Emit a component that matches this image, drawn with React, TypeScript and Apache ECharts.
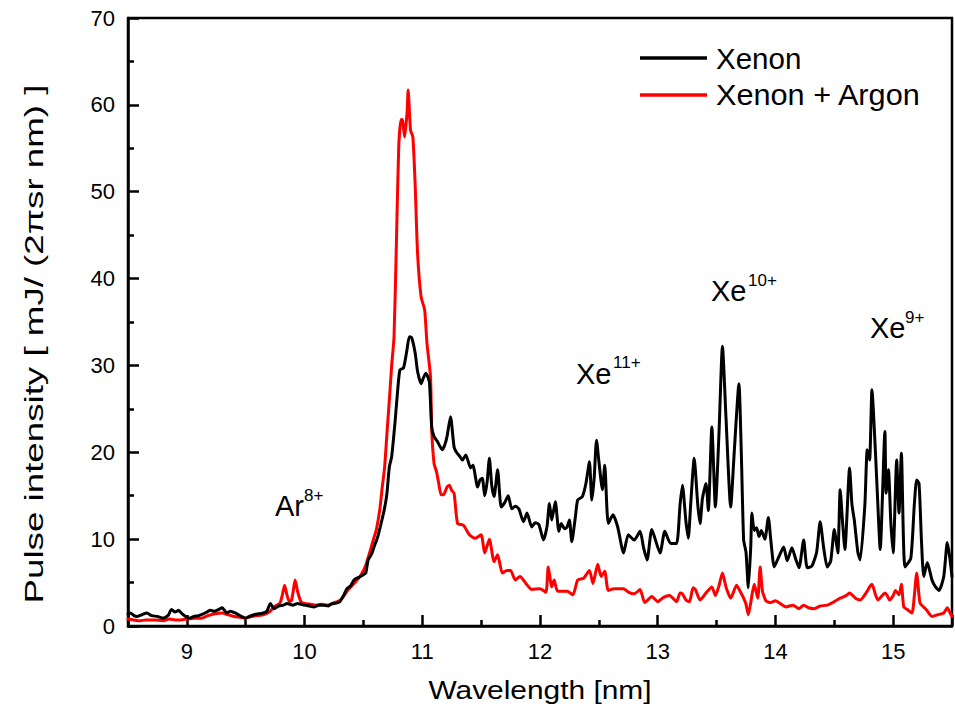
import React, { useEffect, useRef } from "react";
import * as echarts from "echarts";

// Xenon (black) spectrum: wavelength [nm] and intensity
const xenonX = [
  8.5, 8.52, 8.55, 8.58, 8.62, 8.66, 8.7, 8.75, 8.8, 8.84, 8.87, 8.9, 8.93, 8.96, 9.0, 9.02, 9.06, 9.1, 9.14, 9.17,
  9.2, 9.23, 9.27, 9.3, 9.32, 9.34, 9.37, 9.41, 9.45, 9.5, 9.53, 9.57, 9.61, 9.65, 9.68, 9.71, 9.74, 9.78, 9.82, 9.85,
  9.9, 9.94, 9.97, 10.0, 10.04, 10.08, 10.12, 10.16, 10.2, 10.22, 10.26, 10.3, 10.33, 10.36, 10.39, 10.42, 10.46, 10.5, 10.52, 10.54,
  10.57, 10.59, 10.62, 10.65, 10.68, 10.7, 10.72, 10.74, 10.77, 10.79, 10.81, 10.84, 10.86, 10.87, 10.89, 10.91, 10.94, 10.96, 10.99, 11.01,
  11.03, 11.06, 11.08, 11.1, 11.13, 11.17, 11.19, 11.21, 11.24, 11.27, 11.29, 11.32, 11.34, 11.37, 11.41, 11.43, 11.47, 11.49, 11.51, 11.53,
  11.55, 11.57, 11.59, 11.61, 11.64, 11.67, 11.7, 11.73, 11.76, 11.79, 11.82, 11.86, 11.89, 11.93, 11.96, 11.99, 12.03, 12.06, 12.08, 12.1,
  12.13, 12.16, 12.18, 12.21, 12.23, 12.25, 12.27, 12.3, 12.32, 12.36, 12.39, 12.42, 12.44, 12.46, 12.48, 12.5, 12.53, 12.55, 12.58, 12.62,
  12.66, 12.71, 12.75, 12.8, 12.85, 12.88, 12.91, 12.95, 13.02, 13.06, 13.11, 13.16, 13.19, 13.21, 13.24, 13.26, 13.28, 13.31, 13.34, 13.36,
  13.38, 13.41, 13.43, 13.46, 13.49, 13.52, 13.55, 13.58, 13.62, 13.65, 13.69, 13.71, 13.73, 13.75, 13.77, 13.79, 13.8, 13.82, 13.84, 13.86,
  13.88, 13.91, 13.94, 13.96, 13.99, 14.03, 14.07, 14.1, 14.14, 14.17, 14.2, 14.24, 14.27, 14.31, 14.35, 14.38, 14.41, 14.44, 14.47, 14.5,
  14.53, 14.55, 14.57, 14.59, 14.63, 14.65, 14.67, 14.7, 14.72, 14.76, 14.78, 14.8, 14.82, 14.85, 14.87, 14.89, 14.93, 14.94, 14.96, 14.98,
  15.0, 15.03, 15.05, 15.07, 15.1, 15.15, 15.18, 15.2, 15.22, 15.24, 15.26, 15.29, 15.33, 15.36, 15.39, 15.43, 15.46, 15.48, 15.5,
];
const xenonY = [
  1.4, 1.5, 1.2, 1.1, 1.3, 1.5, 1.2, 1.1, 0.9, 1.2, 1.9, 1.6, 1.8, 1.4, 1.0, 0.9, 1.1, 1.2, 1.4, 1.6,
  1.8, 1.7, 1.9, 2.1, 1.8, 1.5, 1.7, 1.5, 1.2, 0.9, 1.1, 1.3, 1.4, 1.5, 1.7, 2.6, 2.0, 2.3, 2.4, 2.6,
  2.4, 2.6, 2.5, 2.4, 2.3, 2.2, 2.4, 2.4, 2.3, 2.5, 2.6, 2.8, 3.5, 4.3, 4.6, 5.3, 5.6, 5.9, 6.1, 7.6,
  8.3, 9.1, 10.2, 11.8, 13.6, 15.3, 18.3, 19.5, 23.7, 27.0, 29.5, 29.7, 31.0, 31.8, 33.3, 33.2, 31.4, 29.3, 27.9, 28.6,
  29.1, 28.1, 22.9, 21.8, 21.2, 20.3, 20.8, 21.8, 24.1, 20.6, 20.0, 19.5, 19.1, 19.7, 18.2, 18.5, 16.0, 16.8, 17.0, 15.0,
  16.5, 19.3, 16.2, 14.9, 18.0, 13.7, 14.2, 15.0, 13.5, 13.8, 13.5, 12.0, 13.0, 11.4, 11.9, 11.7, 9.9, 11.5, 14.1, 12.2,
  14.3, 10.9, 11.8, 11.2, 11.4, 12.2, 9.7, 12.5, 14.5, 14.9, 16.4, 18.9, 14.5, 17.0, 21.4, 19.0, 15.7, 18.5, 11.8, 12.8,
  11.4, 8.4, 10.5, 9.9, 10.9, 9.0, 7.6, 11.1, 8.4, 10.9, 9.5, 9.5, 14.0, 16.2, 12.0, 10.1, 14.0, 19.3, 14.0, 11.8,
  14.7, 16.4, 13.3, 22.9, 13.7, 22.0, 32.2, 24.0, 13.7, 20.0, 27.9, 20.0, 9.9, 8.5, 4.4, 9.0, 13.0, 11.0, 11.3, 10.3,
  11.0, 10.0, 12.5, 10.0, 6.8, 8.0, 9.1, 7.5, 9.0, 7.8, 6.7, 9.9, 6.7, 6.9, 8.5, 12.0, 9.0, 6.8, 7.5, 11.1,
  8.4, 15.7, 12.0, 8.8, 18.2, 14.0, 12.2, 8.5, 7.6, 14.0, 20.3, 19.1, 27.2, 19.9, 14.0, 8.8, 22.4, 15.3, 18.0, 12.0,
  8.4, 19.1, 13.0, 19.9, 6.8, 7.8, 14.0, 16.8, 16.4, 10.0, 5.7, 7.3, 5.3, 4.5, 4.1, 5.7, 9.6, 8.0, 5.7,
];

// Xenon + Argon (red) spectrum
const argonX = [
  8.5, 8.55, 8.6, 8.65, 8.72, 8.8, 8.85, 8.9, 8.95, 9.0, 9.06, 9.12, 9.18, 9.24, 9.3, 9.35, 9.4, 9.45, 9.5, 9.55,
  9.6, 9.65, 9.7, 9.75, 9.79, 9.81, 9.83, 9.85, 9.87, 9.89, 9.91, 9.92, 9.94, 9.97, 10.0, 10.05, 10.1, 10.14, 10.2, 10.25,
  10.28, 10.32, 10.36, 10.4, 10.44, 10.48, 10.52, 10.56, 10.59, 10.61, 10.64, 10.66, 10.68, 10.7, 10.72, 10.74, 10.76, 10.78, 10.8, 10.82,
  10.83, 10.85, 10.87, 10.88, 10.9, 10.92, 10.94, 10.96, 10.99, 11.02, 11.04, 11.07, 11.08, 11.1, 11.12, 11.14, 11.16, 11.18, 11.21, 11.23,
  11.25, 11.27, 11.3, 11.35, 11.4, 11.45, 11.5, 11.53, 11.57, 11.61, 11.64, 11.68, 11.72, 11.75, 11.79, 11.83, 11.88, 11.93, 12.0, 12.05,
  12.07, 12.1, 12.12, 12.15, 12.23, 12.28, 12.32, 12.37, 12.42, 12.45, 12.49, 12.52, 12.55, 12.58, 12.63, 12.71, 12.75, 12.8, 12.85, 12.89,
  12.95, 13.0, 13.05, 13.1, 13.16, 13.19, 13.21, 13.24, 13.27, 13.3, 13.32, 13.36, 13.41, 13.46, 13.49, 13.52, 13.55, 13.58, 13.62, 13.67,
  13.7, 13.73, 13.75, 13.77, 13.8, 13.82, 13.85, 13.87, 13.89, 13.92, 13.96, 14.0, 14.05, 14.09, 14.15, 14.2, 14.24, 14.28, 14.33, 14.38,
  14.44, 14.5, 14.55, 14.6, 14.63, 14.68, 14.72, 14.77, 14.8, 14.82, 14.85, 14.87, 14.9, 14.93, 14.95, 14.97, 15.0, 15.02, 15.05, 15.07,
  15.09, 15.12, 15.16, 15.18, 15.2, 15.22, 15.23, 15.28, 15.33, 15.38, 15.43, 15.46, 15.48, 15.5,
];
const argonY = [
  0.8, 0.7, 0.6, 0.7, 0.7, 0.6, 0.8, 0.7, 0.7, 0.8, 0.9, 0.9, 1.2, 1.4, 1.5, 1.3, 1.1, 1.0, 0.9, 1.1,
  1.2, 1.3, 1.6, 2.3, 2.6, 3.5, 4.7, 3.6, 2.8, 3.0, 4.6, 5.3, 4.0, 2.8, 2.6, 2.5, 2.4, 2.5, 2.4, 2.7,
  2.8, 3.2, 4.0, 4.6, 5.2, 5.9, 7.0, 8.8, 10.2, 11.1, 13.5, 16.0, 18.3, 22.2, 26.0, 30.0, 33.3, 44.0, 55.2, 58.3,
  58.3, 56.3, 59.0, 61.7, 57.1, 56.3, 50.6, 42.9, 37.9, 36.4, 32.5, 28.7, 22.6, 18.7, 17.8, 16.4, 15.1, 15.1, 16.0, 16.2,
  15.6, 15.3, 11.8, 11.6, 10.5, 10.1, 10.5, 8.4, 10.0, 7.4, 8.2, 6.1, 6.4, 6.4, 5.3, 5.7, 4.9, 4.2, 4.3, 3.9,
  6.8, 4.5, 5.3, 4.0, 4.0, 3.6, 5.3, 5.5, 6.4, 4.9, 7.1, 5.7, 6.3, 4.1, 4.3, 4.3, 3.9, 3.7, 4.2, 2.7,
  3.4, 2.8, 3.3, 3.5, 2.8, 3.8, 3.7, 3.0, 2.8, 4.4, 4.2, 3.0, 3.8, 4.5, 3.5, 4.6, 6.1, 4.5, 3.2, 4.7,
  4.0, 3.2, 2.5, 1.3, 3.5, 4.8, 3.2, 6.8, 4.0, 2.9, 2.7, 2.9, 2.5, 2.2, 2.4, 2.0, 2.4, 2.1, 2.0, 2.3,
  2.4, 2.8, 3.2, 3.5, 3.8, 3.2, 3.0, 3.8, 4.5, 4.8, 3.6, 3.0, 3.4, 3.8, 3.5, 3.0, 3.5, 4.1, 3.6, 4.8,
  2.2, 1.9, 1.5, 3.5, 6.1, 3.5, 2.6, 1.9, 1.1, 1.3, 1.5, 2.1, 1.6, 1.1,
];

const seriesNames = ["Xenon", "Xenon + Argon"];
const seriesColors = ["#000000", "#ff0000"];
const yTicks = [0, 10, 20, 30, 40, 50, 60, 70];

const FONT = '"Liberation Sans", Arial, sans-serif';

function zip(xs: number[], ys: number[]) {
  return xs.map((x, i) => [x, ys[i]]);
}

export default function App() {
  const ref = useRef<HTMLDivElement>(null);
  useEffect(() => {
    if (!ref.current) return;
    const chart = echarts.init(ref.current, undefined, { renderer: "svg" });
    const axisCommon = {
      axisLine: { show: true, onZero: false, lineStyle: { color: "#000", width: 2.5 } },
      axisTick: { show: true, inside: true, length: 11, lineStyle: { color: "#000", width: 2.5 } },
      minorTick: { show: true, splitNumber: 2, length: 6, lineStyle: { color: "#000", width: 2.5 } },
      splitLine: { show: false },
      minorSplitLine: { show: false },
    };
    const annot = (
      base: string,
      sup: string,
      bx: number,
      by: number,
      sx: number,
      sy: number
    ) => [
      {
        type: "text",
        x: bx,
        y: by,
        style: { text: base, fill: "#000", fontSize: 29, fontFamily: FONT, textAlign: "left", textVerticalAlign: "middle" },
      },
      {
        type: "text",
        x: sx,
        y: sy,
        style: { text: sup, fill: "#000", fontSize: 17, fontFamily: FONT, textAlign: "left", textVerticalAlign: "middle" },
      },
    ];
    chart.setOption({
      animation: false,
      backgroundColor: "#fff",
      grid: {
        left: 128,
        right: 3,
        top: 18,
        bottom: 89,
        show: true,
        borderColor: "#000",
        borderWidth: 2.5,
        backgroundColor: "transparent",
      },
      xAxis: {
        type: "value",
        min: 8.5,
        max: 15.5,
        splitNumber: 7,
        ...axisCommon,
        axisLabel: {
          show: true,
          color: "#000",
          fontSize: 22,
          fontFamily: FONT,
          margin: 14,
          showMinLabel: false,
          showMaxLabel: false,
          formatter: (v: number) => (Math.abs(v - Math.round(v)) < 1e-6 ? String(Math.round(v)) : ""),
        },
      },
      yAxis: {
        type: "value",
        min: yTicks[0],
        max: yTicks[yTicks.length - 1],
        interval: 10,
        ...axisCommon,
        axisLabel: { show: true, color: "#000", fontSize: 22, fontFamily: FONT, margin: 13 },
      },
      series: [
        {
          name: seriesNames[0],
          type: "line",
          data: zip(xenonX, xenonY),
          showSymbol: false,
          symbol: "none",
          smooth: 0.2,
          lineStyle: { color: seriesColors[0], width: 3, join: "round", cap: "round" },
          itemStyle: { color: seriesColors[0] },
          z: 3,
        },
        {
          name: seriesNames[1],
          type: "line",
          data: zip(argonX, argonY),
          showSymbol: false,
          symbol: "none",
          smooth: 0.2,
          lineStyle: { color: seriesColors[1], width: 3, join: "round", cap: "round" },
          itemStyle: { color: seriesColors[1] },
          z: 2,
        },
      ],
      graphic: [
        // legend
        { type: "line", shape: { x1: 640, y1: 58, x2: 707, y2: 58 }, style: { stroke: seriesColors[0], lineWidth: 3.5 } },
        { type: "line", shape: { x1: 640, y1: 95, x2: 707, y2: 95 }, style: { stroke: seriesColors[1], lineWidth: 3.5 } },
        {
          type: "text",
          x: 716,
          y: 58,
          style: { text: seriesNames[0], fill: "#000", fontSize: 29.5, fontFamily: FONT, textAlign: "left", textVerticalAlign: "middle" },
        },
        {
          type: "text",
          x: 716,
          y: 95,
          scaleX: 1.04,
          style: { text: seriesNames[1], fill: "#000", fontSize: 29.5, fontFamily: FONT, textAlign: "left", textVerticalAlign: "middle" },
        },
        // axis titles
        {
          type: "text",
          x: 540,
          y: 690,
          scaleX: 1.15,
          style: { text: "Wavelength [nm]", fill: "#000", fontSize: 26, fontFamily: FONT, textAlign: "center", textVerticalAlign: "middle" },
        },
        {
          type: "text",
          x: 34,
          y: 344,
          rotation: Math.PI / 2,
          scaleX: 1.36,
          scaleY: 0.95,
          style: {
            text: "Pulse intensity [ mJ/ (2πsr nm) ]",
            fill: "#000",
            fontSize: 27,
            fontFamily: FONT,
            textAlign: "center",
            textVerticalAlign: "middle",
          },
        },
        // peak annotations
        ...annot("Ar", "8+", 275, 506, 304, 495),
        ...annot("Xe", "11+", 576, 374, 613, 362),
        ...annot("Xe", "10+", 711, 291, 748, 280),
        ...annot("Xe", "9+", 870, 328, 905, 317),
      ],
    });
    return () => chart.dispose();
  }, []);
  return <div ref={ref} style={{ position: "fixed", left: 0, top: 0, width: 955, height: 715 }} />;
}
